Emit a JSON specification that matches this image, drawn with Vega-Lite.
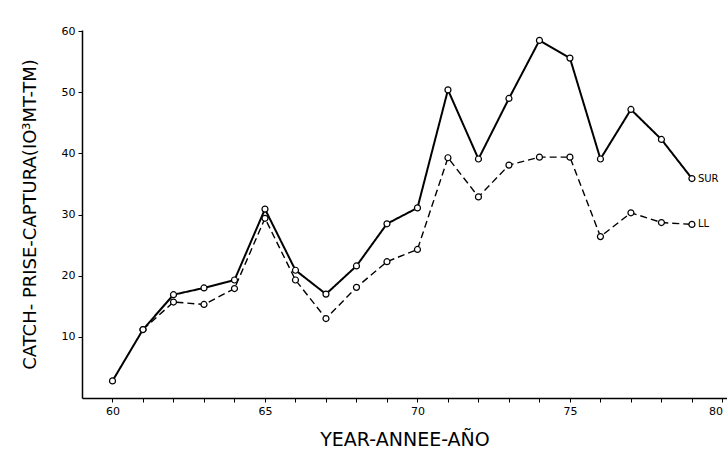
{
  "$schema": "https://vega.github.io/schema/vega-lite/v6.json",
  "width": 645,
  "height": 368,
  "autosize": {"type": "none"},
  "padding": {"left": 82, "top": 30, "right": 0, "bottom": 60},
  "background": "white",
  "config": {
    "view": {"stroke": null},
    "font": "DejaVu Sans",
    "axis": {"grid": false, "domainColor": "black", "tickColor": "black", "labelColor": "black", "titleColor": "black", "labelFont": "DejaVu Sans", "titleFont": "DejaVu Sans", "titleFontWeight": "normal"}
  },
  "data": {
    "values": [
      {"year": 60, "series": "SUR", "catch": 2.8},
      {"year": 61, "series": "SUR", "catch": 11.2},
      {"year": 62, "series": "SUR", "catch": 16.9},
      {"year": 63, "series": "SUR", "catch": 18.0},
      {"year": 64, "series": "SUR", "catch": 19.3},
      {"year": 65, "series": "SUR", "catch": 30.9},
      {"year": 66, "series": "SUR", "catch": 20.9},
      {"year": 67, "series": "SUR", "catch": 17.0},
      {"year": 68, "series": "SUR", "catch": 21.6},
      {"year": 69, "series": "SUR", "catch": 28.5},
      {"year": 70, "series": "SUR", "catch": 31.1},
      {"year": 71, "series": "SUR", "catch": 50.4},
      {"year": 72, "series": "SUR", "catch": 39.1},
      {"year": 73, "series": "SUR", "catch": 49.0},
      {"year": 74, "series": "SUR", "catch": 58.5},
      {"year": 75, "series": "SUR", "catch": 55.6},
      {"year": 76, "series": "SUR", "catch": 39.1},
      {"year": 77, "series": "SUR", "catch": 47.2},
      {"year": 78, "series": "SUR", "catch": 42.3},
      {"year": 79, "series": "SUR", "catch": 35.9},
      {"year": 61, "series": "LL", "catch": 11.2},
      {"year": 62, "series": "LL", "catch": 15.7},
      {"year": 63, "series": "LL", "catch": 15.3},
      {"year": 64, "series": "LL", "catch": 17.9},
      {"year": 65, "series": "LL", "catch": 29.4},
      {"year": 66, "series": "LL", "catch": 19.3},
      {"year": 67, "series": "LL", "catch": 13.0},
      {"year": 68, "series": "LL", "catch": 18.1},
      {"year": 69, "series": "LL", "catch": 22.3},
      {"year": 70, "series": "LL", "catch": 24.3},
      {"year": 71, "series": "LL", "catch": 39.3},
      {"year": 72, "series": "LL", "catch": 32.9},
      {"year": 73, "series": "LL", "catch": 38.1},
      {"year": 74, "series": "LL", "catch": 39.4},
      {"year": 75, "series": "LL", "catch": 39.4},
      {"year": 76, "series": "LL", "catch": 26.4},
      {"year": 77, "series": "LL", "catch": 30.3},
      {"year": 78, "series": "LL", "catch": 28.7},
      {"year": 79, "series": "LL", "catch": 28.4}
    ]
  },
  "encoding": {
    "x": {
      "field": "year", "type": "quantitative",
      "scale": {"domain": [59, 80.15], "nice": false, "zero": false},
      "axis": {
        "title": "YEAR-ANNEE-AÑO", "titleFontSize": 19, "titlePadding": 14,
        "values": [60,61,62,63,64,65,66,67,68,69,70,71,72,73,74,75,76,77,78,79,80],
        "labelExpr": "datum.value % 5 === 0 ? datum.label : ''",
        "labelFlush": 10,
        "labelFontSize": 11, "tickSize": 4, "domainWidth": 1.5, "labelPadding": 3
      }
    },
    "y": {
      "field": "catch", "type": "quantitative",
      "scale": {"domain": [0, 60.2], "nice": false},
      "axis": {
        "title": "CATCH- PRISE-CAPTURA(IO³MT-TM)", "titleFontSize": 18, "titlePadding": 22,
        "values": [10, 20, 30, 40, 50, 60],
        "labelFontSize": 11, "tickSize": 4, "domainWidth": 1.5, "labelPadding": 3
      }
    }
  },
  "layer": [
    {
      "mark": {"type": "line", "color": "black"},
      "encoding": {
        "detail": {"field": "series"},
        "strokeDash": {"field": "series", "type": "nominal", "scale": {"domain": ["SUR", "LL"], "range": [[1, 0], [7, 4]]}, "legend": null},
        "strokeWidth": {"field": "series", "type": "nominal", "scale": {"domain": ["SUR", "LL"], "range": [2, 1.4]}, "legend": null}
      }
    },
    {
      "mark": {"type": "point", "shape": "circle", "filled": true, "fill": "white", "stroke": "black", "strokeWidth": 1.2, "size": 36, "opacity": 1}
    },
    {
      "transform": [{"filter": "datum.year === 79"}],
      "mark": {"type": "text", "align": "left", "baseline": "middle", "dx": 6, "fontSize": 10, "color": "black"},
      "encoding": {"text": {"field": "series"}}
    }
  ]
}
